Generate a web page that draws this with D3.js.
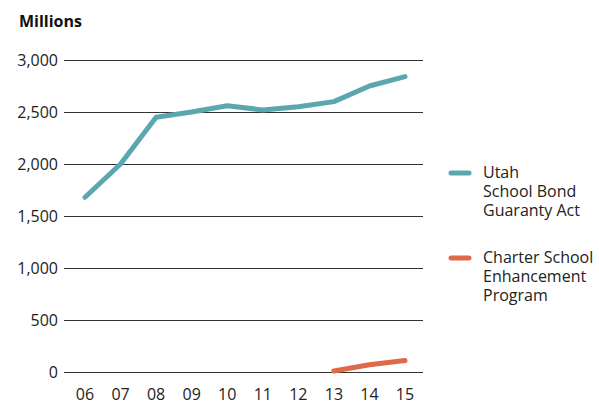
<!DOCTYPE html>
<html>
<head>
<meta charset="utf-8">
<script src="https://cdn.jsdelivr.net/npm/d3@7"></script>
<style>
  body { margin: 0; background: #fff; }
  svg { font-family: "Open Sans", "Noto Sans", sans-serif; }
</style>
</head>
<body>
<svg id="chart" width="599" height="405"></svg>
<script>
// years along the bottom, values in millions
const years = ["06", "07", "08", "09", "10", "11", "12", "13", "14", "15"];
const utahBond = [1680, 2000, 2450, 2500, 2560, 2520, 2550, 2600, 2750, 2840];
const charterYears = ["13", "14", "15"];
const charterEnh = [10, 70, 110];
const yTicks = [0, 500, 1000, 1500, 2000, 2500, 3000];

const TEAL = "#5ba7b0";
const ORANGE = "#e0694a";
const FS = 16;

const svg = d3.select("#chart");

const x = d3.scalePoint().domain(years).range([85, 405]);
const y = d3.scaleLinear().domain([0, 3000]).range([372, 60]);

// gridlines + y labels
const grid = svg.append("g");
grid.selectAll("line").data(yTicks).join("line")
  .attr("x1", 64).attr("x2", 423)
  .attr("y1", (d) => y(d) + 0.5).attr("y2", (d) => y(d) + 0.5)
  .attr("stroke", "#333").attr("stroke-width", 1);
grid.selectAll("text").data(yTicks).join("text")
  .attr("x", 58).attr("y", (d) => y(d))
  .attr("dy", "0.35em")
  .attr("text-anchor", "end")
  .attr("font-size", FS).attr("fill", "#222")
  .text(d3.format(","));

// x labels
svg.append("g").selectAll("text").data(years).join("text")
  .attr("x", (d) => x(d)).attr("y", 400)
  .attr("text-anchor", "middle")
  .attr("font-size", FS).attr("fill", "#222")
  .text((d) => d);

svg.append("text")
  .attr("x", 19).attr("y", 27)
  .attr("font-size", FS).attr("font-weight", "bold").attr("fill", "#111")
  .text("Millions");

const line = d3.line().x((d) => x(d[0])).y((d) => y(d[1]));

svg.append("path")
  .attr("d", line(d3.zip(years, utahBond)))
  .attr("fill", "none").attr("stroke", TEAL)
  .attr("stroke-width", 5).attr("stroke-linecap", "round").attr("stroke-linejoin", "round");

svg.append("path")
  .attr("d", line(d3.zip(charterYears, charterEnh)))
  .attr("fill", "none").attr("stroke", ORANGE)
  .attr("stroke-width", 5).attr("stroke-linecap", "round").attr("stroke-linejoin", "round");

// legend
const legend = [
  { color: TEAL, lines: ["Utah", "School Bond", "Guaranty Act"], y: 173 },
  { color: ORANGE, lines: ["Charter School", "Enhancement", "Program"], y: 258 },
];
const lg = svg.append("g").selectAll("g").data(legend).join("g");
lg.append("line")
  .attr("x1", 451).attr("x2", 469)
  .attr("y1", (d) => d.y).attr("y2", (d) => d.y)
  .attr("stroke", (d) => d.color).attr("stroke-width", 5).attr("stroke-linecap", "round");
lg.each(function (d) {
  d3.select(this).selectAll("text").data(d.lines).join("text")
    .attr("x", 483).attr("y", (t, i) => d.y + 5 + i * 19)
    .attr("font-size", FS).attr("fill", "#222")
    .text((t) => t);
});
</script>
</body>
</html>
